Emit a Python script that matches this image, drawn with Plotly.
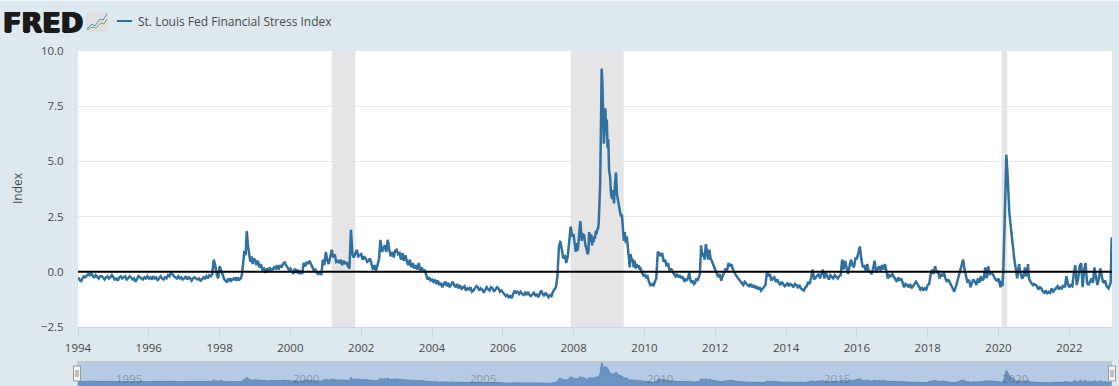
import pandas as pd
import plotly.graph_objects as go

TITLE = "St. Louis Fed Financial Stress Index"
v1994 = [-.25,-.35,-.45,-.3,-.2,-.25,-.15,-.1,-.15,-.05,-.2,-.25,-.15,-.25,-.3,-.2,-.2,-.25,-.35,-.25,-.2,-.3,-.25,-.15]
v1995 = [-.25,-.35,-.3,-.4,-.25,-.2,-.3,-.25,-.2,-.35,-.3,-.2,-.25,-.35,-.3,-.45,-.3,-.2,-.25,-.3,-.35,-.25,-.3,-.2]
v1996 = [-.3,-.25,-.35,-.2,-.3,-.25,-.4,-.3,-.2,-.3,-.35,-.25,-.3,-.15,-.2,-.05,-.1,-.2,-.25,-.3,-.2,-.3,-.25,-.35]
v1997 = [-.3,-.2,-.35,-.25,-.3,-.4,-.3,-.25,-.3,-.35,-.3,-.4,-.35,-.25,-.3,-.2,-.3,-.15,-.2,-.1,.55,.3,-.1,-.3]
v1998 = [.25,.1,-.15,-.3,-.35,-.4,-.45,-.35,-.4,-.3,-.4,-.35,-.3,-.35,-.25,-.4,-.3,-.35,-.3,-.1,.4,.95,.75,1.85,1.2,.85,.45,.7,.35,.6]
v1999 = [.55,.3,.5,.2,.35,.1,.15,-.05,.15,0,.2,.05,.1,.2,.15,.3,.1,.3,.2,.35,.45,.3,.2,.1]
v2000 = [.15,0,-.1,.15,-.05,.1,-.1,.05,-.1,.4,.25,.45,.35,.5,.3,.2,.05,.1,-.05,-.1,0,-.15,.55,.3]
v2001 = [.9,.5,.35,.7,1.0,.65,.8,.45,.5,.4,.55,.3,.5,.35,.45,.25,.15,1.9,.8,.65,.85,1.0,.7,.75]
v2002 = [.8,.55,.7,.6,.45,.5,.6,.35,.1,.3,.05,.3,.55,1.45,.9,1.05,1.2,.9,1.45,1.0,.7,.9,.65,.95]
v2003 = [1.0,.8,.85,.55,.85,.5,.75,.45,.3,.55,.2,.4,.15,.3,.1,.4,.05,.2,0,.1,-.1,-.35,-.25,-.4]
v2004 = [-.35,-.45,-.35,-.55,-.4,-.6,-.5,-.7,-.55,-.45,-.65,-.5,-.7,-.55,-.45,-.6,-.7,-.55,-.75,-.6,-.8,-.7,-.65,-.85]
v2005 = [-.75,-.8,-.7,-.9,-.85,-.75,-.65,-.7,-.85,-.75,-.8,-.95,-.85,-.7,-.8,-.85,-.7,-.75,-.9,-.8,-.7,-.75,-.9,-.85]
v2006 = [-.95,-1.0,-1.1,-1.05,-1.15,-1.1,-1.2,-1.0,-.85,-.95,-.9,-1.0,-.9,-1.0,-1.05,-.95,-1.05,-.9,-1.05,-1.1,-1.0,-.95,-1.1,-1.0]
v2007 = [-1.15,-1.0,-.85,-1.0,-1.1,-.95,-1.05,-1.15,-1.05,-1.1,-.9,-.8,-.7,-.2,1.1,1.4,.9,.6,.75,.4,.7,1.4,2.05,1.6]
v2008 = [1.7,1.4,1.2,.9,1.3,.95,1.1,1.5,1.9,2.3,1.9,1.4,1.75,1.55,1.7,1.3,1.2,1.1,.9,.8,.9,1.8,1.6,1.35,1.7,1.2,1.45,1.35,1.6,1.5,1.85,1.7,1.9,1.95,2.2,2.8,4.0,6.5,9.2,8.6,7.0,5.8,6.4,7.4,6.5,6.9,5.6,6.0]
v2009 = [4.6,4.3,3.5,3.3,3.7,3.1,4.0,4.5,3.5,3.2,3.0,2.7,2.5,2.6,1.9,1.4,1.8,1.3,1.6,1.2,.8,.2,.8,.45,.6,.2,.5,.15,.35,.2,.3,.1,.15,-.05,-.1,-.2]
v2010 = [-.1,-.25,-.2,-.45,-.6,-.55,-.65,-.45,-.3,.9,.85,.7,.85,.45,.55,.25,.4,.05,.15,0,-.1,-.2,-.1,-.25]
v2011 = [-.15,-.3,-.2,-.35,-.45,-.3,-.4,-.25,-.05,-.4,-.5,-.4,-.55,-.5,-.3,-.4,-.25,-.1,1.2,.7,.85,.55,1.25,.75,.55,1.0,.6,.5,.35,.2]
v2012 = [.15,-.05,-.25,-.1,-.4,-.2,-.05,.15,.05,.4,.25,.35,.1,-.05,-.15,-.25,-.35,-.45,-.5,-.6,-.45,-.55,-.6,-.65]
v2013 = [-.55,-.7,-.6,-.75,-.65,-.8,-.7,-.85,-.75,-.7,-.6,0,-.2,-.1,-.4,-.3,-.25,-.45,-.35,-.5,-.6,-.45,-.55,-.65]
v2014 = [-.6,-.5,-.65,-.55,-.6,-.7,-.55,-.6,-.7,-.6,-.75,-.8,-.85,-.7,-.65,-.45,-.55,-.25,.1,-.35,-.25,-.15,-.1,-.3]
v2015 = [-.1,.1,-.3,-.05,-.2,-.35,-.15,-.25,-.3,-.15,-.25,-.3,-.2,-.15,.55,.1,.5,.1,-.1,.25,.55,.3,.2,.6]
v2016 = [.6,.85,1.15,.6,.2,.3,.05,.35,.05,0,-.1,.15,.5,0,.15,.25,.05,.3,.1,.35,.05,-.3,-.15,-.2]
v2017 = [-.1,-.2,-.3,-.45,-.25,-.4,-.3,-.5,-.7,-.55,-.6,-.7,-.55,-.75,-.65,-.5,-.45,-.55,-.7,-.8,-.7,-.85,-.75,-.8]
v2018 = [-.6,-.55,-.1,.1,-.1,.25,-.05,.05,-.3,-.1,-.2,-.05,-.3,-.45,-.35,-.5,-.65,-.75,-.9,-.7,-.45,-.15,.1,.35]
v2019 = [.55,.1,-.25,-.5,-.35,-.7,-.5,-.35,-.45,-.6,-.3,-.5,-.2,-.4,-.3,.2,-.3,.25,-.15,0,-.1,-.25,-.35,-.4]
v2020 = [-.3,-.5,-.7,-.4,-.65,.2,2.0,4.0,5.3,4.6,3.5,2.7,2.25,1.8,1.2,.8,.6,.3,-.1,-.3,.1,.35,0,-.2,-.3,-.25,-.05,.2,-.2,-.15,.35,-.3,-.4,-.5,-.55,-.6]
v2021 = [-.55,-.6,-.65,-.8,-.7,-.75,-.9,-.95,-.85,-1.0,-.9,-.95,-.75,-.9,-.8,-.75,-.65,-.8,-.7,-.75,-.6,-.7,-.2,-.55]
v2022 = [-.7,-.6,-.65,-.1,.3,-.6,-.3,.25,.4,-.7,.1,.4,-.5,-.6,-.4,-.3,-.5,.2,-.2,-.6,-.3,.15,-.2,-.5]
dates_2023 = ["2023-01-06", "2023-01-20", "2023-02-10", "2023-03-03", "2023-03-14"]
v2023 = [-.4,-.65,-.75,-.5,1.55]
years = [v1994,v1995,v1996,v1997,v1998,v1999,v2000,v2001,v2002,v2003,v2004,v2005,v2006,v2007,v2008,v2009,v2010,v2011,v2012,v2013,v2014,v2015,v2016,v2017,v2018,v2019,v2020,v2021,v2022]
recessions = [("2001-03-01","2001-11-01"),("2007-12-01","2009-06-01"),("2020-02-01","2020-04-01")]
y_ticks = [-2.5,0,2.5,5,7.5,10]
nav_labels = [("1995-06-15","1995"),("2000-06-15","2000"),("2005-06-15","2005"),("2010-06-15","2010"),("2015-06-15","2015"),("2020-06-15","2020")]

dates, values = [], []
for k, arr in enumerate(years):
    start = pd.Timestamp(1994 + k, 1, 1)
    for i, v in enumerate(arr):
        dates.append(start + pd.Timedelta(days=i * 365.25 / len(arr)))
        values.append(v)
dates += [pd.Timestamp(d) for d in dates_2023]
values += v2023

W, H, L, R, T = 1119, 386, 78, 7, 51
def px(x): return (x - L) / (W - L - R)
def py(y): return (H - y) / (H - T)

BG = "#dde8ef"; LINE = "#30719f"; TXT = "#4a4a4a"; FONT = "Open Sans"
x_range = ["1994-01-01", "2023-03-17"]

fig = go.Figure()
fig.add_trace(go.Scatter(x=dates, y=values, mode="lines", line=dict(color=LINE, width=2.5), name=TITLE, showlegend=False))
fig.add_trace(go.Scatter(x=dates, y=[-2.5]*len(dates), mode="lines", line=dict(width=0), xaxis="x2", yaxis="y2", showlegend=False))
fig.add_trace(go.Scatter(x=dates, y=values, mode="lines", fill="tonexty", fillcolor="#6c94c3", line=dict(color="#5c89bb", width=1), xaxis="x2", yaxis="y2", showlegend=False))

shapes = []
for a, b in recessions:
    shapes.append(dict(type="rect", xref="x", yref="y", x0=a, x1=b, y0=-2.5, y1=10, fillcolor="#e5e5e5", line_width=0, layer="between"))
shapes.append(dict(type="line", xref="x", yref="y", x0=x_range[0], x1=x_range[1], y0=0, y1=0, line=dict(color="#000000", width=2), layer="above"))
def rect(x0, y0, x1, y1, fill, line=None, layer="above"):
    d = dict(type="rect", xref="paper", yref="paper", x0=px(x0), x1=px(x1), y0=py(y0), y1=py(y1), fillcolor=fill, layer=layer, line=dict(color=line, width=1) if line else dict(width=0))
    shapes.append(d)
def seg(pts, color, width=1):
    p = "M " + " L ".join(f"{px(a):.5f},{py(b):.5f}" for a, b in pts)
    shapes.append(dict(type="path", xref="paper", yref="paper", path=p, line=dict(color=color, width=width), layer="above"))

rect(0, 0, W, 1, "#f5f8fa")
rect(77, 361, 1112, 386, "#b6cbe3", layer="below")
rect(77, 361, 1112, 362.5, "#c4c8cc")
# logo icon
rect(86, 12, 108, 32, "#dfe0df")
seg([(87,29),(92,24),(95,26),(100,19),(103,20),(107,14)], "#5d8fb5", 1)
seg([(87,30),(92,27),(96,28),(101,23),(104,24),(107,19)], "#7fa878", 1)
# legend sample
seg([(117,21),(132,21)], LINE, 2)
# navigator handles
for cx in (77, 1112):
    rect(cx-3.5, 366, cx+3.5, 381, "#f4f4f4", "#999999")
    seg([(cx-1,370),(cx-1,377)], "#888888", 1)
    seg([(cx+1,370),(cx+1,377)], "#888888", 1)

ann = [
    dict(text="FRED", xref="paper", yref="paper", x=px(1), y=py(22), xanchor="left", yanchor="middle", showarrow=False,
         font=dict(family="DejaVu Sans", size=27, color="#1a1a1a", weight="bold", shadow="1px 0 0 #1a1a1a, -1px 0 0 #1a1a1a, 0 1px 0 #1a1a1a")),
    dict(text=TITLE, xref="paper", yref="paper", x=px(136), y=py(21.5), xanchor="left", yanchor="middle", showarrow=False,
         font=dict(family=FONT, size=12, color=TXT)),
    dict(text="Index", xref="paper", yref="paper", x=px(17), y=py(188), textangle=-90, xanchor="center", yanchor="middle", showarrow=False,
         font=dict(family=FONT, size=12, color=TXT)),
]
for d, t in nav_labels:
    ann.append(dict(text=t, xref="x2", yref="y2", x=d, y=1.5, xanchor="center", yanchor="middle", showarrow=False,
                    font=dict(family=FONT, size=11.5, color="rgba(70,70,70,0.42)")))

fig.update_layout(
    width=W, height=H, autosize=False,
    margin=dict(l=L, r=R, t=T, b=0, pad=0, autoexpand=False),
    paper_bgcolor=BG, plot_bgcolor="#ffffff",
    showlegend=False, shapes=shapes, annotations=ann,
    font=dict(family=FONT, size=11.5, color=TXT),
    xaxis=dict(automargin=False, type="date", range=x_range, domain=[0,1], anchor="y", dtick="M24", tick0="1994-01-01", tickformat="%Y",
               ticks="outside", ticklen=10, tickcolor="#ccd6eb", tickwidth=1, showline=True, linecolor="#ccd6eb", linewidth=1,
               showgrid=False, zeroline=False, tickfont=dict(family=FONT, size=11.5, color=TXT)),
    yaxis=dict(automargin=False, range=[-2.5,10], domain=[py(327),1], anchor="x", tickvals=y_ticks, tickformat=".1f",
               ticks="outside", ticklen=11, tickcolor="rgba(0,0,0,0)", showgrid=True, gridcolor="#e6e6e6", gridwidth=1,
               zeroline=False, showline=False, tickfont=dict(family=FONT, size=11.5, color=TXT)),
    xaxis2=dict(automargin=False, type="date", range=x_range, domain=[0,1], anchor="y2", showticklabels=False, ticks="", showgrid=False, zeroline=False, showline=False),
    yaxis2=dict(automargin=False, range=[-2.5,10], domain=[0,py(361)], anchor="x2", showticklabels=False, ticks="", showgrid=False, zeroline=False, showline=False),
)
fig.write_html("out.html", config=dict(displayModeBar=False),
               post_script="document.documentElement.style.overflow='hidden';document.body.style.margin='0';document.body.style.overflow='hidden';")
